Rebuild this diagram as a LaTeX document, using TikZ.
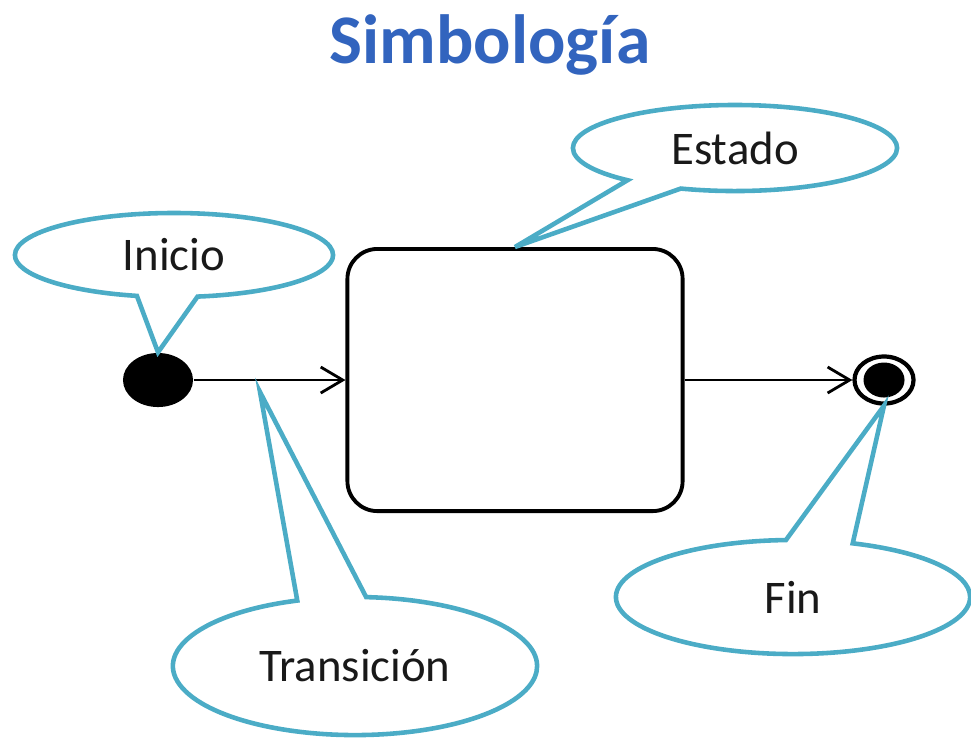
\documentclass[tikz,border=0pt]{standalone}
\usepackage{fontspec}
\setmainfont{Carlito}
\usetikzlibrary{shapes.geometric,shapes.callouts,arrows.meta}
\definecolor{bubbleblue}{RGB}{75,172,198}
\definecolor{titleblue}{RGB}{50,100,190}
\tikzset{
  bubble/.style={ellipse callout, draw=bubbleblue, line width=1.3pt, fill=white,
    inner sep=0pt, callout pointer arc=22, text=black!90,
    font=\fontsize{13.3}{16}\selectfont},
  trans/.style={-{Straight Barb[length=2.2mm,width=2.6mm]}, line width=0.8pt},
  dot/.style={ellipse, fill=black, inner sep=0pt}
}

\begin{document}
\begin{tikzpicture}[x=0.01cm,y=-0.01cm]
        \useasboundingbox (0,0) rectangle (971,738);

        % Title
        \node[font=\bfseries\fontsize{19.8}{24}\selectfont, text=titleblue] (title) at (490,45) {Simbología};

        % States
        \node[dot, minimum width=7mm, minimum height=5.4mm] (ini) at (158,380) {};
        \node[draw, rounded corners=3mm, line width=1.1pt, minimum width=3.35cm, minimum height=2.62cm] (est) at (515,380) {};
        \node[ellipse, draw, line width=1.2pt, minimum width=5.9mm, minimum height=4.7mm, inner sep=0pt] (fin) at (884,380) {};
        \node[dot, minimum width=4.1mm, minimum height=3.5mm] (finin) at (fin) {};

        % Transitions
        \draw[trans] (ini) -- (est);
        \draw[trans] (est) -- (fin);
        \coordinate (trtip) at (260,392);

        % Labels
        \node[bubble, minimum width=3.18cm, minimum height=0.84cm, callout absolute pointer={(ini.north)}] (inicio) at (174,255) {Inicio};
        \node[bubble, minimum width=3.24cm, minimum height=0.86cm, callout absolute pointer={(est.north)}] (estado) at (735,148) {Estado};
        \node[bubble, minimum width=3.54cm, minimum height=1.14cm, callout absolute pointer={(fin.south)}] (final) at (793,597) {Fin};
        \node[bubble, minimum width=3.64cm, minimum height=1.38cm, callout absolute pointer={(trtip)}] (transicion) at (355,666) {Transición};
    \end{tikzpicture}
\end{document}
